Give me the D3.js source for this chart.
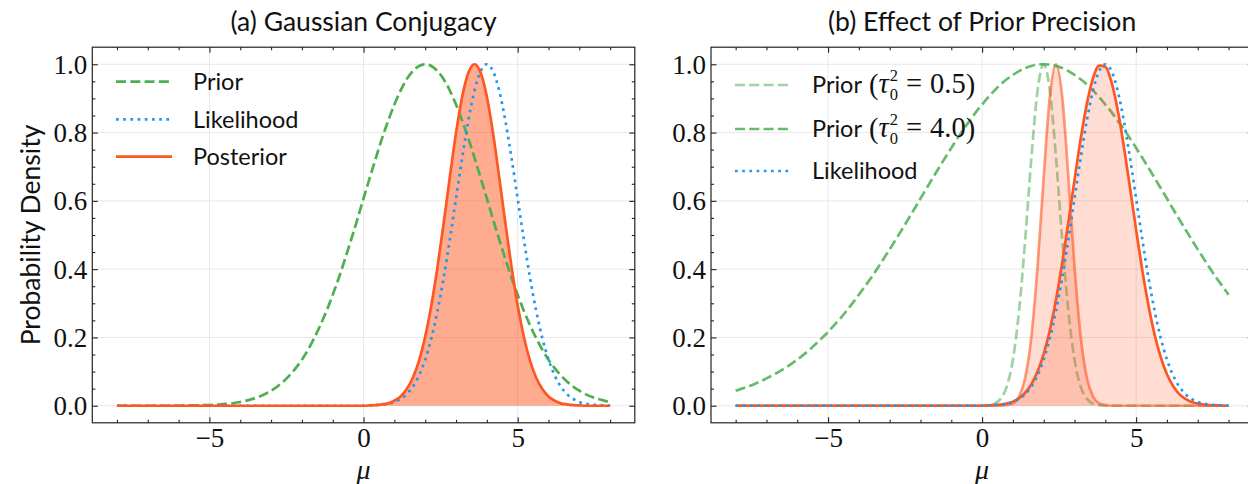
<!DOCTYPE html>
<html><head><meta charset="utf-8">
<script src="https://cdn.jsdelivr.net/npm/d3@7"></script>
<style>
body{margin:0;background:#fff}
svg{display:block}
.sans{font-family:Lato,"Open Sans",sans-serif;fill:#111}
.serif{font-family:"Liberation Serif","DejaVu Serif",serif;fill:#111}
</style>
</head><body>
<svg id="chart" width="1248" height="484"></svg>
<script>
// ---------- data ----------
const muGrid = [-8,-7.8,-7.6,-7.4,-7.2,-7,-6.8,-6.6,-6.4,-6.2,-6,-5.8,-5.6,-5.4,-5.2,-5,-4.8,-4.6,-4.4,-4.2,-4,-3.8,-3.6,-3.4,-3.2,-3,-2.8,-2.6,-2.4,-2.2,-2,-1.8,-1.6,-1.4,-1.2,-1,-0.8,-0.6,-0.4,-0.2,0,0.2,0.4,0.6,0.8,1,1.2,1.4,1.6,1.8,2,2.2,2.4,2.6,2.8,3,3.2,3.4,3.6,3.8,4,4.2,4.4,4.6,4.8,5,5.2,5.4,5.6,5.8,6,6.2,6.4,6.6,6.8,7,7.2,7.4,7.6,7.8,8];

// panel (a)
const priorA = [0,0,0,0,0,0,0,0,0,0,0,0.001,0.001,0.001,0.002,0.002,0.003,0.004,0.006,0.008,0.011,0.015,0.020,0.026,0.034,0.044,0.056,0.071,0.089,0.110,0.135,0.164,0.198,0.236,0.278,0.325,0.375,0.430,0.487,0.546,0.607,0.667,0.726,0.783,0.835,0.882,0.923,0.956,0.980,0.995,1,0.995,0.980,0.956,0.923,0.882,0.835,0.783,0.726,0.667,0.607,0.546,0.487,0.430,0.375,0.325,0.278,0.236,0.198,0.164,0.135,0.110,0.089,0.071,0.056,0.044,0.034,0.026,0.020,0.015,0.011];
const likelihood = [0,0,0,0,0,0,0,0,0,0,0,0,0,0,0,0,0,0,0,0,0,0,0,0,0,0,0,0,0,0,0,0,0,0,0,0,0,0,0,0,0,0.001,0.002,0.003,0.006,0.011,0.020,0.034,0.056,0.089,0.135,0.198,0.278,0.375,0.487,0.607,0.726,0.835,0.923,0.980,1,0.980,0.923,0.835,0.726,0.607,0.487,0.375,0.278,0.198,0.135,0.089,0.056,0.034,0.020,0.011,0.006,0.003,0.002,0.001,0];
const posteriorA = [0,0,0,0,0,0,0,0,0,0,0,0,0,0,0,0,0,0,0,0,0,0,0,0,0,0,0,0,0,0,0,0,0,0,0,0,0,0,0,0,0,0.001,0.002,0.004,0.007,0.015,0.027,0.049,0.082,0.132,0.202,0.294,0.407,0.535,0.670,0.799,0.905,0.975,1,0.975,0.905,0.799,0.670,0.535,0.407,0.294,0.202,0.132,0.082,0.049,0.027,0.015,0.007,0.004,0.002,0.001,0,0,0,0,0];

// panel (b)
const priorTight = [0,0,0,0,0,0,0,0,0,0,0,0,0,0,0,0,0,0,0,0,0,0,0,0,0,0,0,0,0,0,0,0,0,0,0,0,0,0,0,0,0,0.002,0.006,0.020,0.056,0.135,0.278,0.487,0.726,0.923,1,0.923,0.726,0.487,0.278,0.135,0.056,0.020,0.006,0.002,0,0,0,0,0,0,0,0,0,0,0,0,0,0,0,0,0,0,0,0,0];
const priorWide = [0.044,0.050,0.056,0.063,0.071,0.080,0.089,0.099,0.110,0.122,0.135,0.149,0.164,0.181,0.198,0.216,0.236,0.256,0.278,0.301,0.325,0.350,0.375,0.402,0.430,0.458,0.487,0.516,0.546,0.576,0.607,0.637,0.667,0.697,0.726,0.755,0.783,0.810,0.835,0.860,0.882,0.904,0.923,0.941,0.956,0.969,0.980,0.989,0.995,0.999,1,0.999,0.995,0.989,0.980,0.969,0.956,0.941,0.923,0.904,0.882,0.860,0.835,0.810,0.783,0.755,0.726,0.697,0.667,0.637,0.607,0.576,0.546,0.516,0.487,0.458,0.430,0.402,0.375,0.350,0.325];
const posteriorTight = [0,0,0,0,0,0,0,0,0,0,0,0,0,0,0,0,0,0,0,0,0,0,0,0,0,0,0,0,0,0,0,0,0,0,0,0,0,0,0,0,0,0,0,0,0.002,0.007,0.027,0.082,0.202,0.407,0.670,0.905,1,0.905,0.670,0.407,0.202,0.082,0.027,0.007,0.002,0,0,0,0,0,0,0,0,0,0,0,0,0,0,0,0,0,0,0,0];
const posteriorWide = [0,0,0,0,0,0,0,0,0,0,0,0,0,0,0,0,0,0,0,0,0,0,0,0,0,0,0,0,0,0,0,0,0,0,0,0,0,0,0,0,0,0.001,0.002,0.003,0.006,0.012,0.022,0.038,0.063,0.100,0.152,0.222,0.311,0.418,0.537,0.661,0.781,0.884,0.959,0.996,0.993,0.948,0.867,0.760,0.639,0.515,0.397,0.294,0.208,0.142,0.092,0.058,0.034,0.020,0.011,0.006,0.003,0.001,0.001,0,0];

// ticks and text
const xMajorTicks = [-5,0,5];
const xTickLabels = ["\u22125","0","5"];
const xMinorTicks = [-8,-7,-6,-4,-3,-2,-1,1,2,3,4,6,7,8];
const yMajorTicks = [0,0.2,0.4,0.6,0.8,1.0];
const yTickLabels = ["0.0","0.2","0.4","0.6","0.8","1.0"];
const yMinorTicks = [0.05,0.1,0.15,0.25,0.3,0.35,0.45,0.5,0.55,0.65,0.7,0.75,0.85,0.9,0.95];
const panelTitles = ["(a) Gaussian Conjugacy","(b) Effect of Prior Precision"];
const legendA = ["Prior","Likelihood","Posterior"];
const legendB = [["Prior","0.5"],["Prior","4.0"],["Likelihood",null]];
const xLabel = "\u03bc";
const yLabel = "Probability Density";

// ---------- style ----------
const GREEN="#4CAF50", BLUE="#2196F3", ORANGE="#FF5722";
const LW=2.7, DASH="10,4.3", DOT="2.7,4.5";

const svg=d3.select("#chart");
const yTop=47.2, yBot=422.8;
const panelBoxes=[{x0:92.3,x1:634.8},{x0:711,x1:1253.2}];

function makePanel(i){
  const p=panelBoxes[i];
  const x=d3.scaleLinear().domain([-8.8,8.8]).range([p.x0,p.x1]);
  const y=d3.scaleLinear().domain([-0.05,1.05]).range([yBot,yTop]);
  const root=svg.append("g");
  const grid=root.append("g"), data=root.append("g"), axes=root.append("g");
  grid.selectAll("line.gx").data(xMajorTicks).join("line")
    .attr("x1",d=>x(d)).attr("x2",d=>x(d)).attr("y1",yTop).attr("y2",yBot)
    .attr("stroke","#e8e8e8").attr("stroke-width",1);
  grid.selectAll("line.gy").data(yMajorTicks).join("line")
    .attr("y1",d=>y(d)).attr("y2",d=>y(d)).attr("x1",p.x0).attr("x2",p.x1)
    .attr("stroke","#e8e8e8").attr("stroke-width",1);

  const style=(g)=>{g.select(".domain").remove();g.selectAll("line").attr("stroke","#222").attr("stroke-width",1.1);};
  // bottom
  axes.append("g").attr("transform",`translate(0,${yBot})`)
    .call(d3.axisBottom(x).tickValues(xMajorTicks).tickSize(-5.5).tickPadding(5).tickFormat((d,k)=>xTickLabels[k]))
    .call(style).call(g=>g.selectAll("text").attr("class","serif").style("font-size","27px").attr("fill","#111"));
  axes.append("g").attr("transform",`translate(0,${yBot})`)
    .call(d3.axisBottom(x).tickValues(xMinorTicks).tickSize(-3).tickFormat("")).call(style);
  // top
  axes.append("g").attr("transform",`translate(0,${yTop})`)
    .call(d3.axisTop(x).tickValues(xMajorTicks).tickSize(-5.5).tickFormat("")).call(style);
  axes.append("g").attr("transform",`translate(0,${yTop})`)
    .call(d3.axisTop(x).tickValues(xMinorTicks).tickSize(-3).tickFormat("")).call(style);
  // left
  axes.append("g").attr("transform",`translate(${p.x0},0)`)
    .call(d3.axisLeft(y).tickValues(yMajorTicks).tickSize(-5.5).tickPadding(5).tickFormat((d,k)=>yTickLabels[k]))
    .call(style).call(g=>g.selectAll("text").attr("class","serif").style("font-size","27px").attr("fill","#111").attr("dy","0.33em"));
  axes.append("g").attr("transform",`translate(${p.x0},0)`)
    .call(d3.axisLeft(y).tickValues(yMinorTicks).tickSize(-3).tickFormat("")).call(style);
  // right
  axes.append("g").attr("transform",`translate(${p.x1},0)`)
    .call(d3.axisRight(y).tickValues(yMajorTicks).tickSize(-5.5).tickFormat("")).call(style);
  axes.append("g").attr("transform",`translate(${p.x1},0)`)
    .call(d3.axisRight(y).tickValues(yMinorTicks).tickSize(-3).tickFormat("")).call(style);
  // frame
  axes.append("rect").attr("x",p.x0).attr("y",yTop).attr("width",p.x1-p.x0).attr("height",yBot-yTop)
    .attr("fill","none").attr("stroke","#222").attr("stroke-width",1.2);
  // title & x label
  root.append("text").attr("class","sans").attr("x",(p.x0+p.x1)/2).attr("y",31)
    .attr("text-anchor","middle").style("font-size","26.5px").text(panelTitles[i]);
  root.append("text").attr("class","serif").attr("x",x(0)).attr("y",479)
    .attr("text-anchor","middle").style("font-size","28px").style("font-style","italic").text(xLabel);
  return {x,y,data,root};
}

function lineGen(P){return d3.line().x((d,k)=>P.x(muGrid[k])).y(d=>P.y(d)).curve(d3.curveMonotoneX);}
function areaGen(P){return d3.area().x((d,k)=>P.x(muGrid[k])).y0(P.y(0)).y1(d=>P.y(d)).curve(d3.curveMonotoneX);}
function drawLine(P,vals,color,dash,opacity){
  P.data.append("path").datum(vals).attr("d",lineGen(P)).attr("fill","none")
    .attr("stroke",color).attr("stroke-width",LW).attr("stroke-dasharray",dash||null)
    .attr("stroke-opacity",opacity==null?1:opacity);
}
function drawArea(P,vals,color,opacity){
  P.data.append("path").datum(vals).attr("d",areaGen(P)).attr("fill",color).attr("fill-opacity",opacity).attr("stroke","none");
}

// ---------- panel (a) ----------
const A=makePanel(0);
drawArea(A,posteriorA,ORANGE,0.5);
drawLine(A,priorA,GREEN,DASH);
drawLine(A,likelihood,BLUE,DOT);
drawLine(A,posteriorA,ORANGE,null);

// ---------- panel (b) ----------
const B=makePanel(1);
drawLine(B,priorTight,GREEN,DASH,0.55);
drawLine(B,posteriorTight,ORANGE,null,0.6);
drawArea(B,posteriorTight,ORANGE,0.2);
drawLine(B,priorWide,GREEN,DASH,0.85);
drawLine(B,posteriorWide,ORANGE,null,1);
drawArea(B,posteriorWide,ORANGE,0.2);
drawLine(B,likelihood,BLUE,DOT);

// y label
svg.append("text").attr("class","sans").attr("transform","translate(40,235) rotate(-90)")
  .attr("text-anchor","middle").style("font-size","26.5px").text(yLabel);

// ---------- legends ----------
const LEG_FS=23.5;
function legendSample(g,x0,x1,yc,color,dash,op){
  g.append("line").attr("x1",x0).attr("x2",x1).attr("y1",yc).attr("y2",yc)
   .attr("stroke",color).attr("stroke-width",LW).attr("stroke-dasharray",dash||null).attr("stroke-opacity",op);
}
const gA=svg.append("g");
const legAStyle=[[GREEN,DASH,1],[BLUE,DOT,1],[ORANGE,null,1]];
const legARows=[81.7,119.3,156.7];
legendA.forEach((t,k)=>{
  legendSample(gA,116,172,legARows[k],...legAStyle[k]);
  gA.append("text").attr("class","sans").attr("x",193).attr("y",legARows[k]+8.3).style("font-size",LEG_FS+"px").text(t);
});
const gB=svg.append("g");
const legBStyle=[[GREEN,DASH,0.55],[GREEN,DASH,0.85],[BLUE,DOT,1]];
const legBRows=[85,129,171];
legendB.forEach((row,k)=>{
  const yc=legBRows[k], yb=yc+8.3;
  legendSample(gB,735,790,yc,...legBStyle[k]);
  const t=gB.append("text").attr("class","sans").attr("x",812).attr("y",yb).style("font-size",LEG_FS+"px").text(row[0]);
  if(row[1]!==null){
    let x=812+t.node().getComputedTextLength()+7;
    const put=(s,xx,yy,fs,it)=>{const e=gB.append("text").attr("class","serif").attr("x",xx).attr("y",yy)
      .style("font-size",fs+"px").style("font-style",it?"italic":"normal").text(s);return e.node().getComputedTextLength();};
    x+=put("(",x,yb+1,28.5,false);
    x+=put("\u03c4",x,yb,28.5,true)+1;
    const w1=put("2",x,yb-12,16.5,false);
    const w2=put("0",x,yb+7,16.5,false);
    x+=Math.max(w1,w2)+8;
    x+=put("=",x,yb,28.5,false)+8;
    x+=put(row[1],x,yb,28.5,false);
    put(")",x,yb+1,28.5,false);
  }
});
</script>
</body></html>
